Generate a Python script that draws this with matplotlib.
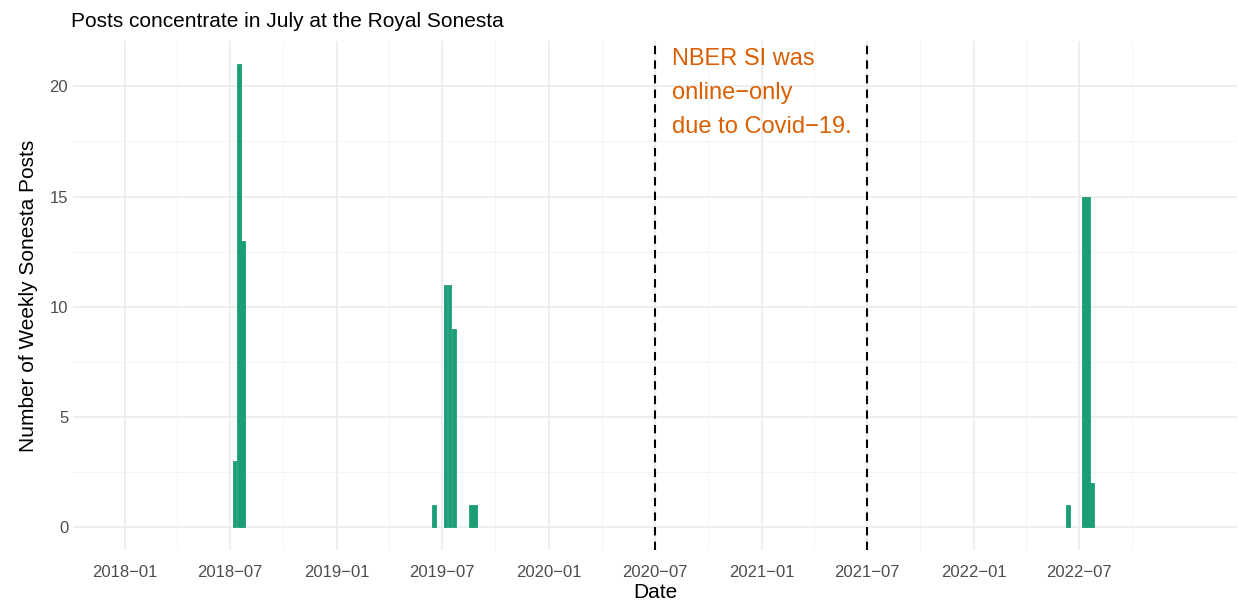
import matplotlib
matplotlib.use("Agg")
import matplotlib.pyplot as plt
import matplotlib.dates as mdates
import numpy as np
import datetime as dt

weeks = ["2018-07-09","2018-07-16","2018-07-23",
         "2019-06-17","2019-07-07","2019-07-14","2019-07-21","2019-08-20","2019-08-27",
         "2022-06-12","2022-07-10","2022-07-17","2022-07-24"]
posts = [3,21,13, 1,11,11,9,1,1, 1,15,15,2]
vlines = ["2020-07-01","2021-07-01"]
note = "NBER SI was\nonline\u2212only\ndue to Covid\u221219."

plt.rcParams['font.family'] = ['Liberation Sans', 'DejaVu Sans']
fig = plt.figure(figsize=(12.38, 6.07), dpi=100)
ax = fig.add_axes([0.059, 0.094, 0.94, 0.838])
d = [mdates.date2num(dt.date.fromisoformat(s)) for s in weeks]
ax.bar(d, posts, width=6.6, color="#1B9E77", edgecolor="#1B9E77", linewidth=0.6, zorder=3)
for v in vlines:
    ax.axvline(mdates.date2num(dt.date.fromisoformat(v)), color="black", ls=(0,(4,3)), lw=1.5, zorder=4)
ax.text(mdates.date2num(dt.date(2020,7,31)), 21.75, note, color="#D95F02", fontsize=17,
        va="top", ha="left", linespacing=1.72)

major = [dt.date(y, m, 1) for y in range(2018, 2023) for m in (1, 7)]
ax.set_xticks([mdates.date2num(x) for x in major])
ax.set_xticklabels([x.strftime("%Y\u2212%m") for x in major])
minor = [dt.date(y, m, 1) for y in range(2017, 2023) for m in (10, 4)]
ax.set_xticks([mdates.date2num(x) for x in minor], minor=True)
ax.set_yticks([0, 5, 10, 15, 20])
ax.set_yticks([2.5, 7.5, 12.5, 17.5], minor=True)
ax.set_xlim(mdates.date2num(dt.date(2017,10,4)), mdates.date2num(dt.date(2023,3,30)))
ax.set_ylim(-1.05, 22.05)
ax.grid(True, which="major", color="#EBEBEB", lw=1.2, zorder=0)
ax.grid(True, which="minor", color="#F3F3F3", lw=0.6, zorder=0)
for s in ax.spines.values():
    s.set_visible(False)
ax.tick_params(which="both", length=0, labelsize=12, labelcolor="#4D4D4D")
ax.tick_params(axis="x", pad=11)
ax.set_xlabel("Date", fontsize=15, labelpad=2)
ax.set_ylabel("Number of Weekly Sonesta Posts", fontsize=15, labelpad=8)
fig.text(0.057, 0.955, "Posts concentrate in July at the Royal Sonesta", fontsize=15)
fig.savefig("out.png", dpi=100)
